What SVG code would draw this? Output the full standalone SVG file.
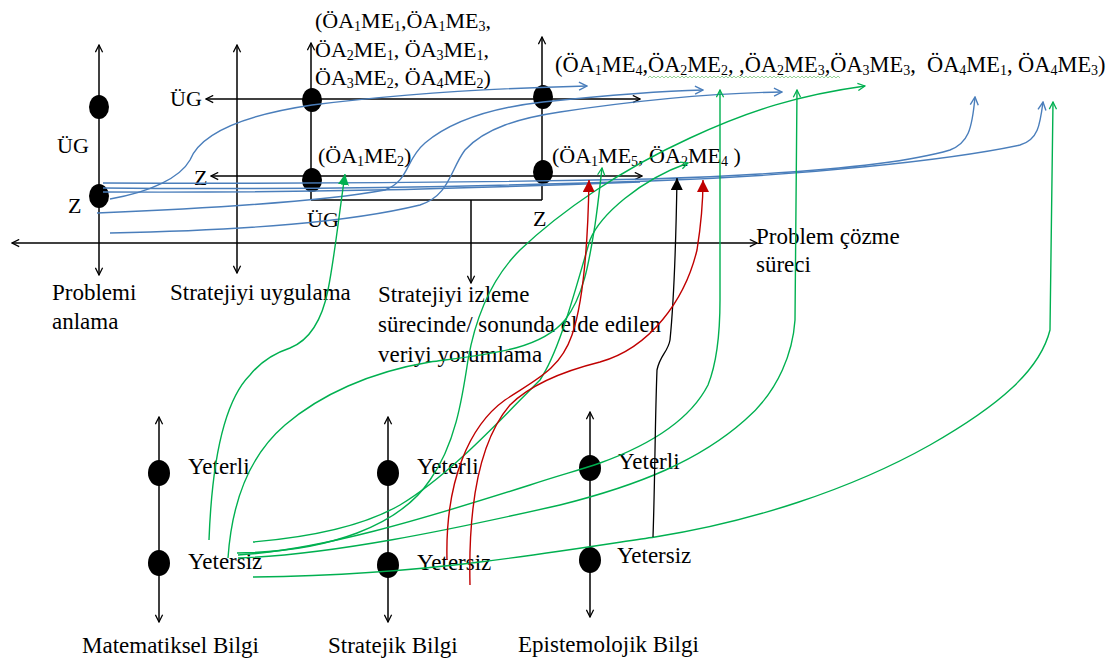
<svg xmlns="http://www.w3.org/2000/svg" width="1112" height="662" viewBox="0 0 1112 662">
<style>
  text{font-family:"Liberation Serif","Times New Roman",serif;font-size:22px;fill:#000}
  text.lbl{font-size:23px}
  .s{font-size:14px;baseline-shift:-3px}
  .ax{stroke:#000;stroke-width:1.5;fill:none}
  .dot{fill:#000}
  .b{stroke:#4A7EBB;stroke-width:1.4;fill:none}
  .g{stroke:#00B050;stroke-width:1.4;fill:none}
  .r{stroke:#C00000;stroke-width:1.4;fill:none}
  .k{stroke:#000;stroke-width:1.3;fill:none}
</style>
<defs>
  <marker id="aK" viewBox="0 0 10 10" refX="9" refY="5" markerWidth="9" markerHeight="9" markerUnits="userSpaceOnUse" orient="auto-start-reverse">
    <path d="M1,1 L9,5 L1,9" fill="none" stroke="#000" stroke-width="1.4"/>
  </marker>
  <marker id="aB" viewBox="0 0 10 10" refX="9" refY="5" markerWidth="10" markerHeight="10" markerUnits="userSpaceOnUse" orient="auto">
    <path d="M1,1 L9,5 L1,9" fill="none" stroke="#4A7EBB" stroke-width="1.4"/>
  </marker>
  <marker id="aG" viewBox="0 0 10 10" refX="9" refY="5" markerWidth="9" markerHeight="9" markerUnits="userSpaceOnUse" orient="auto">
    <path d="M1,1 L9,5 L1,9" fill="none" stroke="#00B050" stroke-width="1.4"/>
  </marker>
  <marker id="fG" viewBox="0 0 10 10" refX="10" refY="5" markerWidth="11" markerHeight="11" markerUnits="userSpaceOnUse" orient="auto">
    <path d="M0,0 L10,5 L0,10 z" fill="#00B050"/>
  </marker>
  <marker id="fR" viewBox="0 0 10 10" refX="10" refY="5" markerWidth="12" markerHeight="12" markerUnits="userSpaceOnUse" orient="auto">
    <path d="M0,0 L10,5 L0,10 z" fill="#C00000"/>
  </marker>
  <marker id="fK" viewBox="0 0 10 10" refX="10" refY="5" markerWidth="12" markerHeight="12" markerUnits="userSpaceOnUse" orient="auto">
    <path d="M0,0 L10,5 L0,10 z" fill="#000"/>
  </marker>
</defs>
<rect width="1112" height="662" fill="#fff"/>

<!-- problem-solving time axis -->
<g id="process-axis">
  <line class="ax" x1="12" y1="243" x2="757" y2="243" marker-start="url(#aK)" marker-end="url(#aK)"/>
  <text class="lbl" x="756" y="244">Problem çözme</text>
  <text class="lbl" x="756" y="272">süreci</text>
</g>

<!-- phase 1: understanding the problem -->
<g id="phase-understand">
  <line class="ax" x1="99" y1="45" x2="99" y2="275" marker-start="url(#aK)" marker-end="url(#aK)"/>
  <ellipse class="dot" cx="99" cy="107" rx="10" ry="12"/>
  <ellipse class="dot" cx="99" cy="196" rx="10" ry="12"/>
  <text x="57" y="153">ÜG</text>
  <text x="68" y="213">Z</text>
  <text class="lbl" x="52" y="300">Problemi</text>
  <text class="lbl" x="52" y="329">anlama</text>
</g>

<!-- phase 2: applying the strategy -->
<g id="phase-apply">
  <line class="ax" x1="237" y1="45" x2="237" y2="273" marker-start="url(#aK)" marker-end="url(#aK)"/>
  <text class="lbl" x="170" y="300">Stratejiyi uygulama</text>
</g>

<!-- phase 3: monitoring the strategy -->
<g id="phase-monitor">
  <line class="ax" x1="311" y1="43" x2="311" y2="200" marker-start="url(#aK)"/>
  <line class="ax" x1="542" y1="37" x2="542" y2="200" marker-start="url(#aK)"/>
  <line class="ax" x1="311" y1="200" x2="542" y2="200"/>
  <line class="ax" x1="471" y1="200" x2="471" y2="283" marker-end="url(#aK)"/>
  <line class="ax" x1="206" y1="99" x2="640" y2="99" marker-start="url(#aK)" marker-end="url(#aK)"/>
  <line class="ax" x1="211" y1="176" x2="642" y2="176" marker-start="url(#aK)" marker-end="url(#aK)"/>
  <ellipse class="dot" cx="312" cy="100" rx="10" ry="12"/>
  <ellipse class="dot" cx="543" cy="97" rx="10" ry="12"/>
  <ellipse class="dot" cx="312" cy="180" rx="10" ry="12"/>
  <ellipse class="dot" cx="543" cy="172" rx="10" ry="12"/>
  <text x="170" y="106">ÜG</text>
  <text x="194" y="185">Z</text>
  <text x="307" y="227">ÜG</text>
  <text x="533" y="226">Z</text>
  <text class="lbl" x="378" y="302">Stratejiyi izleme</text>
  <text class="lbl" x="378" y="332">sürecinde/ sonunda elde edilen</text>
  <text class="lbl" x="378" y="362">veriyi yorumlama</text>
</g>

<!-- episode codes -->
<g id="codes-ug-left">
  <text x="315" y="28">(ÖA<tspan class="s">1</tspan>ME<tspan class="s">1</tspan>,ÖA<tspan class="s">1</tspan>ME<tspan class="s">3</tspan>,</text>
  <text x="315" y="57">ÖA<tspan class="s">2</tspan>ME<tspan class="s">1</tspan>, ÖA<tspan class="s">3</tspan>ME<tspan class="s">1</tspan>,</text>
  <text x="315" y="85">ÖA<tspan class="s">3</tspan>ME<tspan class="s">2</tspan>, ÖA<tspan class="s">4</tspan>ME<tspan class="s">2</tspan>)</text>
</g>
<g id="codes-z-left">
  <text x="318" y="163">(ÖA<tspan class="s">1</tspan>ME<tspan class="s">2</tspan>)</text>
</g>
<g id="codes-ug-right">
  <text x="555" y="72" style="white-space:pre;font-size:22.4px">(ÖA<tspan class="s">1</tspan>ME<tspan class="s">4</tspan>,ÖA<tspan class="s">2</tspan>ME<tspan class="s">2</tspan>, ,ÖA<tspan class="s">2</tspan>ME<tspan class="s">3</tspan>,ÖA<tspan class="s">3</tspan>ME<tspan class="s">3</tspan>,  ÖA<tspan class="s">4</tspan>ME<tspan class="s">1</tspan>, ÖA<tspan class="s">4</tspan>ME<tspan class="s">3</tspan>)</text>
  <path d="M648,78 l2,-2 l2,2 l2,-2 l2,2 l2,-2 l2,2 l2,-2 l2,2 l2,-2 l2,2 l2,-2 l2,2 l2,-2 l2,2 l2,-2 l2,2 l2,-2 l2,2 l2,-2 l2,2 l2,-2 l2,2 l2,-2 l2,2 l2,-2 l2,2 l2,-2 l2,2 l2,-2 l2,2 l2,-2 l2,2 l2,-2 l2,2 l2,-2 l2,2 l2,-2 l2,2 l2,-2 l2,2 l2,-2 l2,2 l2,-2 l2,2 l2,-2 l2,2 l2,-2 l2,2 l2,-2 l2,2 l2,-2 l2,2 l2,-2 l2,2 l2,-2 l2,2 l2,-2 l2,2 l2,-2 l2,2 l2,-2 l2,2 l2,-2 l2,2 l2,-2 l2,2 l2,-2 l2,2 l2,-2 l2,2 l2,-2 l2,2 l2,-2 l2,2 l2,-2 l2,2 l2,-2 l2,2 l2,-2 l2,2 l2,-2 l2,2 l2,-2 l2,2 l2,-2 l2,2 l2,-2 l2,2 l2,-2 l2,2 l2,-2 l2,2 l2,-2 l2,2 l2,-2 l2,2" fill="none" stroke="#7FC97F" stroke-width="0.8"/>
</g>
<g id="codes-z-right">
  <text x="552" y="163">(ÖA<tspan class="s">1</tspan>ME<tspan class="s">5</tspan>, ÖA<tspan class="s">2</tspan>ME<tspan class="s">4</tspan> )</text>
</g>

<!-- knowledge axes -->
<g id="knowledge-math">
  <line class="ax" x1="159" y1="417" x2="159" y2="622" marker-start="url(#aK)" marker-end="url(#aK)"/>
  <ellipse class="dot" cx="159" cy="473" rx="11" ry="13"/>
  <ellipse class="dot" cx="159" cy="563" rx="11" ry="13"/>
  <text class="lbl" x="188" y="474">Yeterli</text>
  <text class="lbl" x="188" y="569">Yetersiz</text>
  <text class="lbl" x="82" y="653">Matematiksel Bilgi</text>
</g>
<g id="knowledge-strategic">
  <line class="ax" x1="388" y1="417" x2="388" y2="622" marker-start="url(#aK)" marker-end="url(#aK)"/>
  <ellipse class="dot" cx="388" cy="473" rx="11" ry="13"/>
  <ellipse class="dot" cx="388" cy="565" rx="11" ry="13"/>
  <text class="lbl" x="417" y="474">Yeterli</text>
  <text class="lbl" x="417" y="570">Yetersiz</text>
  <text class="lbl" x="328" y="653">Stratejik Bilgi</text>
</g>
<g id="knowledge-epistemological">
  <line class="ax" x1="590" y1="412" x2="590" y2="617" marker-start="url(#aK)" marker-end="url(#aK)"/>
  <ellipse class="dot" cx="590" cy="468" rx="11" ry="13"/>
  <ellipse class="dot" cx="590" cy="560" rx="11" ry="13"/>
  <text class="lbl" x="618" y="469">Yeterli</text>
  <text class="lbl" x="617" y="563">Yetersiz</text>
  <text class="lbl" x="518" y="652">Epistemolojik Bilgi</text>
</g>

<!-- transitions between phases and knowledge levels -->
<g id="connectors">
  <!-- blue: transitions out of problem understanding -->
  <path class="b" d="M110,199 C150,192 180,178 190,160 C198,140 225,118 312,105 C400,94 500,88 587,86" marker-end="url(#aB)"/>
  <path class="b" d="M97,213 C220,208 330,200 385,190 C410,180 405,160 425,143 C450,122 490,108 543,102 C610,95 660,91 703,90" marker-end="url(#aB)"/>
  <path class="b" d="M110,233 C250,230 350,222 420,205 C450,195 450,170 465,150 C485,128 520,118 560,112 C640,100 720,93 782,92" marker-end="url(#aB)"/>
  <path class="b" d="M103,183 C300,184 500,182 650,179 C800,174 900,165 950,150 C968,143 972,130 975,97" marker-end="url(#aB)"/>
  <path class="b" d="M103,188 C300,190 500,186 650,181 C800,176 950,160 1020,145 C1038,140 1040,125 1043,102" marker-end="url(#aB)"/>
  <path class="b" d="M103,192 C300,193 450,189 640,182"/>

  <!-- green: knowledge levels to episodes -->
  <path class="g" d="M209,540 C212,460 225,400 250,375 C262,360 275,353 290,348 C310,340 322,320 328,290 C334,260 337,230 345,174" marker-end="url(#fG)"/>
  <path class="g" d="M228,558 C232,500 250,455 285,425 C320,395 370,372 430,362 C490,354 540,350 565,320 C585,295 590,255 595,225 C598,205 600,185 602,168" marker-end="url(#aG)"/>
  <path class="g" d="M253,542 C300,538 360,528 400,505 C450,475 500,420 540,380 C560,350 575,290 590,240 C600,215 640,180 688,163" marker-end="url(#aG)"/>
  <path class="g" d="M237,553 C330,552 400,525 430,480 C455,445 462,400 468,360 C475,320 490,280 520,250 C560,212 620,170 690,138 C750,110 800,95 865,86" marker-end="url(#aG)"/>
  <path class="g" d="M238,555 C320,550 420,520 530,485 C560,475 580,470 600,463 C650,445 690,420 708,385 C718,360 720,330 720,300 L720,90" marker-end="url(#aG)"/>
  <path class="g" d="M238,558 C330,555 450,530 560,505 C640,485 700,460 745,420 C780,390 793,350 795,320 L797,90" marker-end="url(#aG)"/>
  <path class="g" d="M253,577 C330,576 400,572 480,562 C560,552 620,542 655,537 C750,522 850,490 930,445 C1000,405 1040,370 1050,330 L1053,102" marker-end="url(#aG)"/>

  <!-- black: epistemological link -->
  <path class="k" d="M653,537 C655,480 655,420 657,370 C660,355 668,352 670,340 C674,300 676,240 677,178" marker-end="url(#fK)"/>

  <!-- red: strategic knowledge links -->
  <path class="r" d="M447,560 C445,480 470,425 505,400 C535,380 560,370 572,335 C584,300 588,240 589,180" marker-end="url(#fR)"/>
  <path class="r" d="M470,585 C468,500 480,440 510,405 C530,385 560,372 600,362 C650,348 685,300 697,250 C701,225 703,200 703,180" marker-end="url(#fR)"/>
</g>
</svg>
